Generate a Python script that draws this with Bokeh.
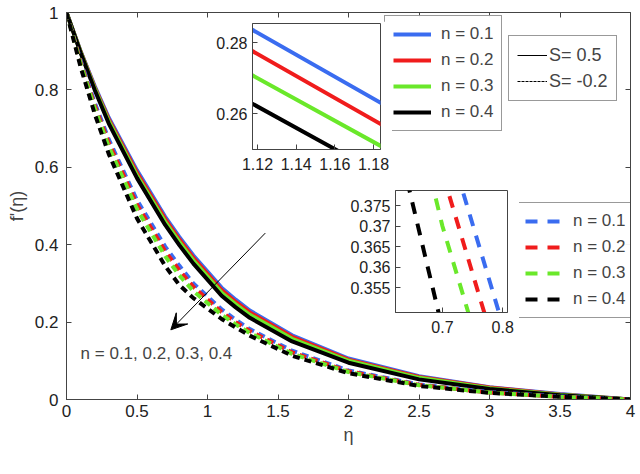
from bokeh.plotting import figure
from bokeh.models import (Legend, LegendItem, LinearAxis, Arrow, VeeHead, Label,
                          FixedTicker, Range1d)
from bokeh.embed import file_html
from bokeh.resources import INLINE

eta = [0, 0.1, 0.2, 0.3, 0.5, 0.7, 0.8, 0.9, 1.1, 1.2, 1.3, 1.6, 2, 2.5, 3, 3.5, 4]
# S = 0.5 (solid)
s_n1 = [1, 0.900, 0.810, 0.728, 0.592, 0.472, 0.420, 0.372, 0.289, 0.258, 0.230, 0.166, 0.106, 0.060, 0.032, 0.014, 0]
s_n2 = [1, 0.899, 0.807, 0.724, 0.586, 0.466, 0.414, 0.366, 0.283, 0.252, 0.225, 0.162, 0.103, 0.058, 0.031, 0.013, 0]
s_n3 = [1, 0.898, 0.804, 0.719, 0.579, 0.459, 0.407, 0.359, 0.276, 0.246, 0.219, 0.157, 0.100, 0.056, 0.029, 0.012, 0]
s_n4 = [1, 0.896, 0.800, 0.713, 0.572, 0.451, 0.399, 0.351, 0.268, 0.238, 0.211, 0.150, 0.095, 0.052, 0.027, 0.011, 0]
# S = -0.2 (dashed)
d_n1 = [1, 0.876, 0.767, 0.672, 0.515, 0.395, 0.346, 0.300, 0.233, 0.206, 0.182, 0.126, 0.075, 0.039, 0.019, 0.008, 0]
d_n2 = [1, 0.872, 0.760, 0.663, 0.504, 0.383, 0.334, 0.291, 0.226, 0.200, 0.177, 0.122, 0.073, 0.038, 0.018, 0.007, 0]
d_n3 = [1, 0.868, 0.753, 0.653, 0.492, 0.370, 0.321, 0.280, 0.219, 0.194, 0.172, 0.118, 0.071, 0.037, 0.018, 0.007, 0]
d_n4 = [1, 0.859, 0.738, 0.634, 0.468, 0.345, 0.296, 0.262, 0.208, 0.186, 0.165, 0.113, 0.068, 0.035, 0.017, 0.007, 0]

n_labels = ["n = 0.1", "n = 0.2", "n = 0.3", "n = 0.4"]
colors = ["#3a6cf0", "#f01c1c", "#6ae82a", "#000000"]
solid = [s_n1, s_n2, s_n3, s_n4]
dashed = [d_n1, d_n2, d_n3, d_n4]

FONT = "Liberation Sans"

def style_axes(p, size="15px"):
    for ax in p.axis:
        ax.major_tick_in = 5
        ax.major_tick_out = 0
        ax.minor_tick_in = 0
        ax.minor_tick_out = 0
        ax.axis_line_color = "#444444"
        ax.major_tick_line_color = "#444444"
        ax.major_label_text_font = FONT
        ax.major_label_text_font_size = size
        ax.major_label_text_color = "#222222"
    p.outline_line_color = "#444444"
    p.grid.visible = False

# main figure
p = figure(width=636, height=470, output_backend="svg", toolbar_location=None,
           x_range=Range1d(0, 4), y_range=Range1d(0, 1),
           min_border_left=66, min_border_right=6, min_border_top=12, min_border_bottom=71)
p.xaxis.ticker = FixedTicker(ticks=[0, 0.5, 1, 1.5, 2, 2.5, 3, 3.5, 4])
p.yaxis.ticker = FixedTicker(ticks=[0, 0.2, 0.4, 0.6, 0.8, 1])
p.xaxis.axis_label = "η"
p.yaxis.axis_label = "f'(η)"
for ax in (p.xaxis[0], p.yaxis[0]):
    ax.axis_label_text_font = FONT
    ax.axis_label_text_font_style = "normal"
    ax.axis_label_text_font_size = "18px"
top = LinearAxis(ticker=FixedTicker(ticks=[0.5, 1, 1.5, 2, 2.5, 3, 3.5]))
right = LinearAxis(ticker=FixedTicker(ticks=[0.2, 0.4, 0.6, 0.8]))
p.add_layout(top, "above")
p.add_layout(right, "right")
style_axes(p, "17px")
p.xaxis[0].major_label_standoff = 8
p.yaxis[0].major_label_standoff = 8
for ax in (top, right):
    ax.major_label_text_font_size = "0px"
    ax.major_label_standoff = 0

for ys, c in zip(solid, colors):
    p.line(eta, ys, line_color=c, line_width=4)
for ys, c in zip(dashed, colors):
    p.line(eta, ys, line_color=c, line_width=4, line_dash="7 5")

s_leg1 = p.line([0], [0], line_color="black", line_width=1, visible=False)
s_leg2 = p.line([0], [0], line_color="black", line_width=1, line_dash="3 1", visible=False)
leg = Legend(items=[LegendItem(label="S= 0.5", renderers=[s_leg1]),
                    LegendItem(label="S= -0.2", renderers=[s_leg2])],
             location=(442, 298), label_text_font=FONT, label_text_font_size="18px",
             glyph_width=30, label_standoff=2, spacing=4, padding=8,
             border_line_color="#333333", label_height=22)
p.add_layout(leg)

def inset_legend(dash, loc, dash_pat):
    items = []
    for c, lab in zip(colors, n_labels):
        kw = dict(line_dash=dash_pat) if dash else {}
        r = p.line([0], [0], line_color=c, line_width=4, visible=False, **kw)
        items.append(LegendItem(label=lab, renderers=[r]))
    p.add_layout(Legend(items=items, location=loc, label_text_font=FONT,
                        label_text_font_size="17px", glyph_width=38, spacing=6,
                        padding=8, label_standoff=10, label_height=20,
                        border_line_color="#333333"))

inset_legend(False, (318, 268), "")
inset_legend(True, (450, 81), "12 10")

p.add_layout(Arrow(end=VeeHead(size=16, fill_color="black", line_color="black"),
                   x_start=1.41, y_start=0.43, x_end=0.74, y_end=0.18, line_width=1))
p.add_layout(Label(x=0.1, y=0.12, text="n = 0.1, 0.2, 0.3, 0.4", text_font=FONT,
                   text_font_size="17px", text_baseline="middle"))

def inset(xr, yr, xt, yt, dash, left, topy, frame_w, frame_h, bl, dash_pat):
    q = figure(width=bl + frame_w + 12, height=frame_h + 32, output_backend="svg",
               toolbar_location=None, x_range=Range1d(*xr), y_range=Range1d(*yr),
               min_border_left=bl, min_border_right=12, min_border_top=2, min_border_bottom=30)
    q.xaxis.ticker = FixedTicker(ticks=xt)
    q.yaxis.ticker = FixedTicker(ticks=yt)
    style_axes(q, "16px")
    q.xaxis.major_label_standoff = 8
    data = dashed if dash else solid
    for ys, c in zip(data, colors):
        kw = dict(line_dash=dash_pat) if dash else {}
        q.line(eta, ys, line_color=c, line_width=4, **kw)
    q.styles = {"position": "absolute", "left": f"{left}px", "top": f"{topy}px"}
    return q

q1 = inset((1.1174, 1.1836), (0.2499, 0.2854), [1.12, 1.14, 1.16, 1.18], [0.26, 0.28],
           False, 252 - 46, 23 - 2, 128, 126, 46, "")
q2 = inset((0.622, 0.808), (0.349, 0.3787), [0.7, 0.8], [0.355, 0.36, 0.365, 0.37, 0.375],
           True, 395 - 50, 190 - 2, 112, 122, 50, "12 10")

open("out.html", "w").write(file_html([p, q1, q2], INLINE))
